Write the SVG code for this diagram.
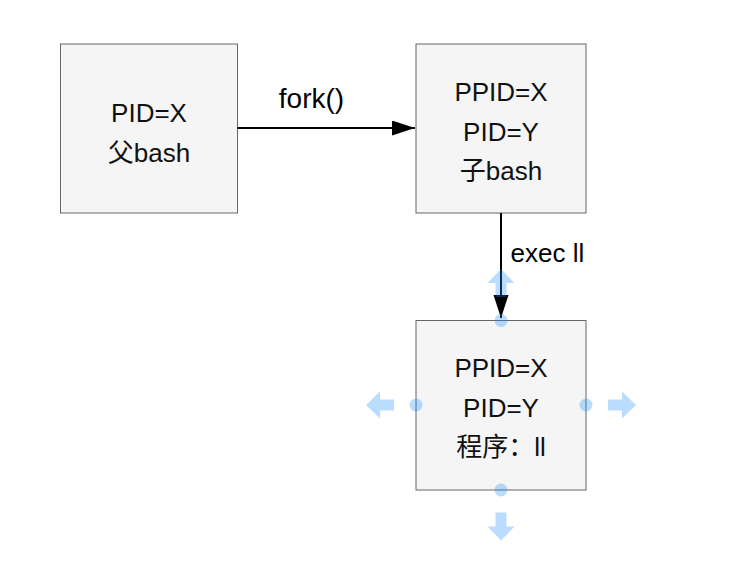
<svg xmlns="http://www.w3.org/2000/svg" width="746" height="572" viewBox="0 0 746 572">
  <style>
    .box { fill: #f5f5f5; stroke: #666666; stroke-width: 1; }
    .lbl { font-family: "Liberation Sans", "Noto Sans CJK SC", sans-serif; font-size: 26px; fill: #111111; text-anchor: middle; }
    .edge { stroke: #000000; stroke-width: 2; fill: none; }
    .edgelbl { font-family: "Liberation Sans", "Noto Sans CJK SC", sans-serif; font-size: 26px; fill: #000000; }
    .hov { fill: #1a8cff; opacity: 0.3; }
  </style>
  <defs>
    <marker id="arrow" markerUnits="userSpaceOnUse" markerWidth="24" markerHeight="16" refX="23" refY="7.5" orient="auto">
      <path d="M0,0 L23,7.5 L0,15 Z" fill="#000000"/>
    </marker>
    <path id="hoverArrow" d="M0,-5.5 H14 V-13.5 L28,0 L14,13.5 V5.5 H0 Z"/>
  </defs>
  <rect width="746" height="572" fill="#ffffff"/>

  <g id="node-parent">
    <rect class="box" x="60.5" y="44" width="177" height="169"/>
    <text class="lbl" x="149" y="121.5">PID=X</text>
    <text class="lbl" x="149" y="161.5">父bash</text>
  </g>

  <g id="node-child">
    <rect class="box" x="416" y="44" width="170" height="169"/>
    <text class="lbl" x="501" y="101">PPID=X</text>
    <text class="lbl" x="501" y="140.5">PID=Y</text>
    <text class="lbl" x="501" y="180">子bash</text>
  </g>

  <g id="node-program">
    <rect class="box" x="416" y="320.5" width="170" height="169.5"/>
    <text class="lbl" x="501" y="377">PPID=X</text>
    <text class="lbl" x="501" y="416.5">PID=Y</text>
    <text class="lbl" x="501" y="456">程序：ll</text>
  </g>

  <g id="connectors">
    <line class="edge" x1="237.5" y1="128" x2="415" y2="128" marker-end="url(#arrow)"/>
    <text class="edgelbl" x="311.5" y="108" style="text-anchor: middle; font-size: 28px;">fork()</text>
    <line class="edge" x1="501" y1="213" x2="501" y2="318" marker-end="url(#arrow)"/>
    <text class="edgelbl" x="510.5" y="261.5">exec ll</text>
  </g>

  <g id="hover-handles">
    <circle class="hov" cx="501" cy="320.5" r="6.5"/>
    <circle class="hov" cx="416" cy="405" r="6.5"/>
    <circle class="hov" cx="586" cy="405" r="6.5"/>
    <circle class="hov" cx="501" cy="490" r="6.5"/>
    <use class="hov" href="#hoverArrow" transform="translate(608,405)"/>
    <use class="hov" href="#hoverArrow" transform="translate(394,405) rotate(180)"/>
    <use class="hov" href="#hoverArrow" transform="translate(501,512.5) rotate(90)"/>
    <use class="hov" href="#hoverArrow" transform="translate(501,297) rotate(-90)"/>
  </g>
</svg>
